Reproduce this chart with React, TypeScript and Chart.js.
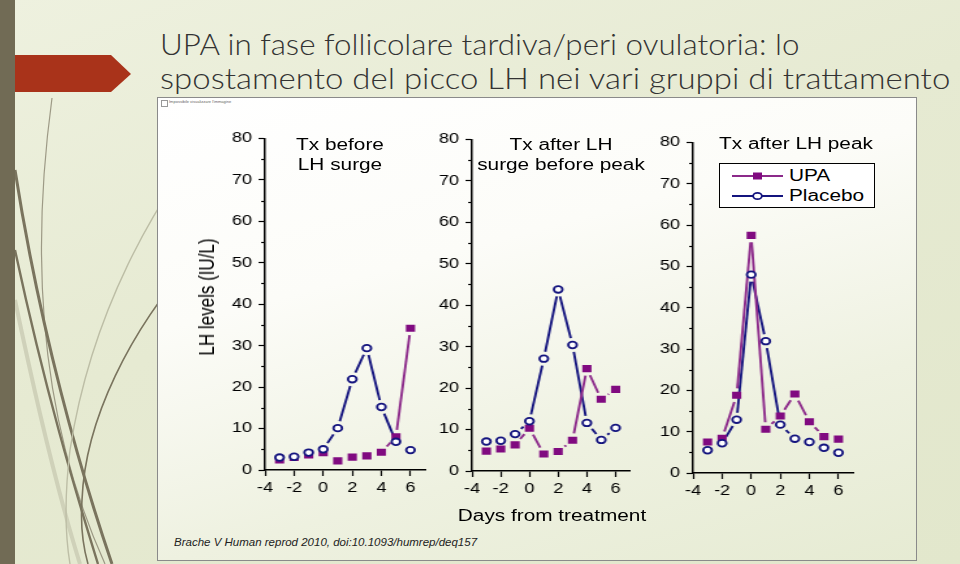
import React, { useEffect, useRef } from 'react';
import { Chart, registerables } from 'chart.js';

Chart.register(...registerables);

// ---------- data ----------
const days = [-3, -2, -1, 0, 1, 2, 3, 4, 5, 6];

const upaBefore = [2.4, 3.0, 3.6, 4.2, 2.2, 3.1, 3.4, 4.3, 8.0, 34.2];
const placeboBefore = [3.0, 3.2, 4.2, 5.0, 10.1, 21.9, 29.4, 15.2, 6.8, 4.8];

const upaAfterSurge = [4.8, 5.3, 6.3, 10.3, 4.1, 4.7, 7.4, 24.7, 17.3, 19.7];
const placeboAfterSurge = [7.1, 7.3, 8.9, 12.0, 27.1, 43.8, 30.4, 11.6, 7.5, 10.4];

const upaAfterPeak = [7.5, 8.4, 18.8, 57.5, 10.6, 13.8, 19.1, 12.4, 8.8, 8.2];
const placeboAfterPeak = [5.5, 7.2, 12.9, 48.0, 31.9, 11.7, 8.3, 7.5, 6.1, 4.9];

const xTickValues = [-4, -2, 0, 2, 4, 6];
const yTickValues = [0, 10, 20, 30, 40, 50, 60, 70, 80];
const yMinorTickValues = [5, 15, 25, 35, 45, 55, 65, 75];

const panelTitles = [
  ['Tx before', 'LH surge'],
  ['Tx after LH', 'surge before peak'],
  ['Tx after LH peak'],
];
const seriesNames = ['UPA', 'Placebo'];

const titleLines = [
  'UPA in fase follicolare tardiva/peri ovulatoria: lo',
  'spostamento del picco LH nei vari gruppi di trattamento',
];
const titleScales = [1.045, 1.1];
const yTitle = 'LH levels (IU/L)';
const xTitle = 'Days from treatment';
const footer = 'Brache V Human reprod 2010, doi:10.1093/humrep/deq157';

const STRETCH = 1.3; // the pasted figure is stretched horizontally
const UPA_MARK = '#800a80';
const UPA_LINE = '#8c2a8a';
const PLA_COLOR = '#14147e';
const FONT = '"Liberation Sans", Arial, sans-serif';

// connecting lines with a gap around each marker (SigmaPlot style)
const gapLines = {
  id: 'gapLines',
  beforeDatasetsDraw(chart: any) {
    const ctx = chart.ctx;
    chart.data.datasets.forEach((ds: any, i: number) => {
      const pts = chart.getDatasetMeta(i).data;
      const g = ds.gap || 7;
      ctx.save();
      ctx.strokeStyle = ds.lineColor;
      ctx.lineWidth = 1.9;
      for (let k = 0; k < pts.length - 1; k++) {
        const a = pts[k];
        const b = pts[k + 1];
        const dx = b.x - a.x;
        const dy = b.y - a.y;
        const L = Math.hypot(dx, dy);
        if (L <= 2 * g) continue;
        const ux = dx / L;
        const uy = dy / L;
        ctx.beginPath();
        ctx.moveTo(a.x + ux * g, a.y + uy * g);
        ctx.lineTo(b.x - ux * g, b.y - uy * g);
        ctx.stroke();
      }
      ctx.restore();
    });
  },
};

// short minor ticks on the y axis
const minorTicks = {
  id: 'minorTicks',
  afterDraw(chart: any) {
    const ctx = chart.ctx;
    const y = chart.scales.y;
    const x0 = chart.chartArea.left;
    ctx.save();
    ctx.strokeStyle = '#000';
    ctx.lineWidth = 1.2;
    yMinorTickValues.forEach((v) => {
      const py = Math.round(y.getPixelForValue(v)) + 0.5;
      ctx.beginPath();
      ctx.moveTo(x0 - 3, py);
      ctx.lineTo(x0, py);
      ctx.stroke();
    });
    ctx.restore();
  },
};

type PanelProps = {
  upa: number[];
  placebo: number[];
  left: number;
  top: number;
  width: number;
  height: number;
  xAxisH: number;
  padRight: number;
};

function Panel({ upa, placebo, left, top, width, height, xAxisH, padRight }: PanelProps) {
  const ref = useRef<HTMLCanvasElement | null>(null);
  useEffect(() => {
    if (!ref.current) return;
    const tickFont = { family: FONT, size: 14 };
    const chart = new Chart(ref.current, {
      type: 'scatter',
      data: {
        datasets: [
          {
            label: seriesNames[1],
            data: days.map((d, i) => ({ x: d, y: placebo[i] })),
            showLine: false,
            pointStyle: 'circle',
            pointRadius: 3.3,
            pointBorderWidth: 1.8,
            pointBackgroundColor: '#ffffff',
            pointBorderColor: PLA_COLOR,
            lineColor: PLA_COLOR,
            gap: 7,
          } as any,
          {
            label: seriesNames[0],
            data: days.map((d, i) => ({ x: d, y: upa[i] })),
            showLine: false,
            pointStyle: 'rect',
            pointRadius: 5,
            pointBorderWidth: 0,
            pointBackgroundColor: UPA_MARK,
            pointBorderColor: UPA_MARK,
            lineColor: UPA_LINE,
            gap: 7,
          } as any,
        ],
      },
      options: {
        animation: false,
        responsive: false,
        maintainAspectRatio: false,
        events: [],
        layout: { padding: { top: 12, right: padRight, left: 0, bottom: 0 } },
        plugins: { legend: { display: false }, tooltip: { enabled: false } },
        scales: {
          x: {
            type: 'linear',
            min: -4,
            max: 7,
            afterBuildTicks: (ax: any) => {
              ax.ticks = xTickValues.map((v) => ({ value: v }));
            },
            afterFit: (s: any) => {
              s.height = xAxisH;
            },
            ticks: {
              color: '#000',
              font: tickFont,
              padding: 4,
              autoSkip: false,
              maxRotation: 0,
              callback: (v: any) => String(v),
            },
            grid: { drawOnChartArea: false, drawTicks: true, tickLength: 6, tickColor: '#000', tickWidth: 1.2 },
            border: { color: '#000', width: 1.5 },
          },
          y: {
            type: 'linear',
            min: 0,
            max: 80,
            afterBuildTicks: (ax: any) => {
              ax.ticks = yTickValues.map((v) => ({ value: v }));
            },
            afterFit: (s: any) => {
              s.width = 40;
            },
            ticks: {
              color: '#000',
              font: tickFont,
              padding: 5,
              autoSkip: false,
              callback: (v: any) => String(v),
            },
            grid: {
              drawOnChartArea: false,
              drawTicks: true,
              tickLength: 5,
              tickColor: '#000',
              tickWidth: 1.2,
            },
            border: { color: '#000', width: 1.5 },
          },
        },
      } as any,
      plugins: [gapLines, minorTicks],
    });
    return () => chart.destroy();
  }, []);
  return (
    <div
      style={{
        position: 'absolute',
        left,
        top,
        width,
        height,
        transform: `scaleX(${STRETCH})`,
        transformOrigin: '0 0',
      }}
    >
      <canvas ref={ref} width={width} height={height} style={{ display: 'block', width, height }} />
    </div>
  );
}

function LegendRow({ y, name, kind }: { y: number; name: string; kind: 'upa' | 'pla' }) {
  const col = kind === 'upa' ? UPA_LINE : PLA_COLOR;
  return (
    <div style={{ position: 'absolute', left: 0, top: y, height: 20, width: 156 }}>
      <svg width={70} height={20} style={{ position: 'absolute', left: 0, top: 0 }}>
        <line x1={12} y1={10} x2={63} y2={10} stroke={col} strokeWidth={2} />
        {kind === 'upa' ? (
          <rect x={33} y={6.5} width={9} height={7} fill={UPA_MARK} />
        ) : (
          <ellipse cx={37.5} cy={10} rx={4.3} ry={3.2} fill="#fff" stroke={PLA_COLOR} strokeWidth={1.8} />
        )}
      </svg>
      <span
        style={{
          position: 'absolute',
          left: 69,
          top: 0,
          font: `16px ${FONT}`,
          lineHeight: '20px',
          color: '#000',
          whiteSpace: 'nowrap',
          transform: `scaleX(${STRETCH})`,
          transformOrigin: '0 50%',
          display: 'inline-block',
        }}
      >
        {name}
      </span>
    </div>
  );
}

export default function App() {
  const textBase: React.CSSProperties = { position: 'absolute', color: '#000', whiteSpace: 'nowrap', fontFamily: FONT };
  const centered = (cx: number, top: number, lines: string[], size: number) => (
    <div
      style={{
        ...textBase,
        left: cx,
        top,
        textAlign: 'center',
        font: `${size}px ${FONT}`,
        lineHeight: '20px',
        transform: `translateX(-50%) scaleX(${STRETCH})`,
      }}
    >
      {lines.map((l, i) => (
        <div key={i}>{l}</div>
      ))}
    </div>
  );
  return (
    <div
      style={{
        position: 'absolute',
        left: 0,
        top: 0,
        width: 960,
        height: 564,
        overflow: 'hidden',
        background: 'linear-gradient(160deg, #eef1df 0%, #e6ead2 45%, #e2e7cc 100%)',
      }}
    >
      {/* decoration */}
      <svg width={960} height={564} style={{ position: 'absolute', left: 0, top: 0 }}>
        <path d="M 52 98 C 30 260, 40 420, 105 564" stroke="#8a8470" strokeWidth={1.2} fill="none" opacity={0.8} />
        <path d="M 15 170 C 40 330, 80 470, 112 564" stroke="#7a745e" strokeWidth={3} fill="none" />
        <path d="M 15 250 C 45 390, 75 490, 98 564" stroke="#7a745e" strokeWidth={2.4} fill="none" />
        <path d="M 15 300 C 40 420, 60 500, 80 564" stroke="#c9cbb3" strokeWidth={4} fill="none" opacity={0.8} />
        <path d="M 233 107 C 150 200, 90 320, 70 450 C 64 500, 66 540, 70 564" stroke="#bdbea6" strokeWidth={1.4} fill="none" />
        <path d="M 195 257 C 130 330, 85 420, 82 500 C 80 530, 84 550, 88 564" stroke="#7a745e" strokeWidth={1.6} fill="none" />
        <rect x={0} y={0} width={15} height={564} fill="#716b55" />
        <polygon points="15,55 111,55 131,74 111,92 15,92" fill="#a9331a" />
      </svg>

      {/* slide title */}
      {titleLines.map((t, i) => (
        <div
          key={i}
          style={{
            position: 'absolute',
            left: 160,
            top: 25 + i * 34,
            font: `300 30px Lato, "Open Sans", sans-serif`,
            lineHeight: '36px',
            color: '#333333',
            whiteSpace: 'nowrap',
            transform: `scaleX(${titleScales[i]})`,
            transformOrigin: '0 0',
          }}
        >
          {t}
        </div>
      ))}

      {/* chart box */}
      <div
        style={{
          position: 'absolute',
          left: 157,
          top: 97,
          width: 758,
          height: 462,
          border: '1px solid #8a8a8a',
          background: 'linear-gradient(165deg, #ffffff 0%, #fcfcf8 35%, #eef1e0 70%, #e6ebd3 100%)',
        }}
      >
        <div style={{ position: 'absolute', left: 3, top: 2, width: 5, height: 5, border: '1px solid #999' }} />
        <div style={{ position: 'absolute', left: 11, top: 1, font: `4px ${FONT}`, color: '#666' }}>
          Impossibile visualizzare l'immagine
        </div>
      </div>

      <Panel upa={upaBefore} placebo={placeboBefore} left={213} top={125} width={171} height={380} xAxisH={35} padRight={7.9} />
      <Panel upa={upaAfterSurge} placebo={placeboAfterSurge} left={420} top={126} width={170} height={380} xAxisH={35} padRight={8.5} />
      <Panel upa={upaAfterPeak} placebo={placeboAfterPeak} left={641} top={129} width={171} height={380} xAxisH={36} padRight={7.9} />

      {/* panel titles */}
      {centered(340, 135, panelTitles[0], 16)}
      {centered(561, 135, panelTitles[1], 16)}
      {centered(796, 134, panelTitles[2], 16)}

      {/* legend */}
      <div
        style={{
          position: 'absolute',
          left: 719,
          top: 163,
          width: 154,
          height: 43,
          border: '1.5px solid #000',
          background: '#fff',
        }}
      >
        <LegendRow y={2} name={seriesNames[0]} kind="upa" />
        <LegendRow y={22} name={seriesNames[1]} kind="pla" />
      </div>

      {/* axis titles */}
      <div
        style={{
          ...textBase,
          left: 207,
          top: 297,
          font: `17px ${FONT}`,
          transform: `translate(-50%, -50%) rotate(-90deg) scaleY(${STRETCH})`,
        }}
      >
        {yTitle}
      </div>
      <div
        style={{
          ...textBase,
          left: 552,
          top: 516,
          font: `16px ${FONT}`,
          transform: `translate(-50%, -50%) scaleX(${STRETCH})`,
        }}
      >
        {xTitle}
      </div>

      {/* source */}
      <div style={{ ...textBase, left: 174, top: 536, font: `italic 11.5px ${FONT}`, color: '#222' }}>{footer}</div>
    </div>
  );
}
